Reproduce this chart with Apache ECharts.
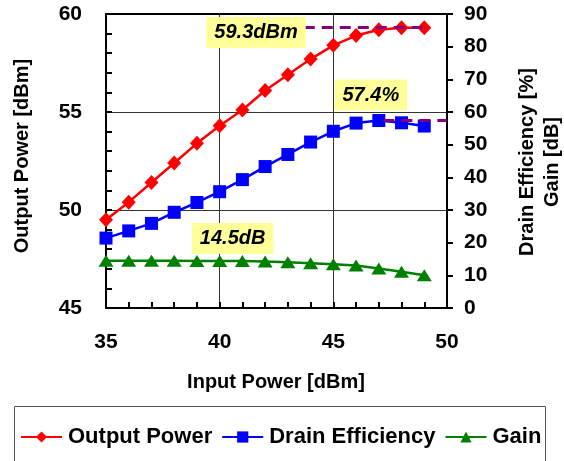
<!DOCTYPE html>
<html>
<head>
<meta charset="utf-8">
<script src="https://cdn.jsdelivr.net/npm/echarts@6/dist/echarts.min.js"></script>
<style>
  html, body { margin: 0; padding: 0; background: #fff; }
  #chart { width: 564px; height: 461px; }
</style>
</head>
<body>
<div id="chart"></div>
<script>
// Input power sweep [dBm]
const inputPower = [35, 36, 37, 38, 39, 40, 41, 42, 43, 44, 45, 46, 47, 48, 49];
// Output power [dBm] (left axis)
const outputPower = [49.5, 50.4, 51.4, 52.4, 53.4, 54.3, 55.1, 56.1, 56.9, 57.7, 58.4, 58.9, 59.2, 59.3, 59.3];
// Drain efficiency [%] (right axis)
const drainEfficiency = [21.4, 23.6, 25.9, 29.3, 32.3, 35.6, 39.3, 43.3, 47.0, 50.8, 54.1, 56.6, 57.4, 56.7, 55.7];
// Gain [dB] (right axis)
const gain = [14.5, 14.5, 14.5, 14.5, 14.4, 14.4, 14.4, 14.2, 14.0, 13.7, 13.4, 13.0, 12.1, 11.1, 10.0];

// Axis ranges: [min, max, labelled step, small tick step]
const xRange = [35, 50, 5, 1];
const leftRange = [45, 60, 5, 1];
const rightRange = [0, 90, 10];

// Highlighted values
const peakPout = 59.3;
const peakDE = 57.4;
const smallSignalGain = 14.5;

const FONT = "'Liberation Sans', Arial, sans-serif";
const pairs = (ys) => inputPower.map((x, i) => [x, ys[i]]);

const line2 = () => ({ color: '#000', width: 2 });
const tickLabel = () => ({ fontFamily: FONT, fontSize: 21, fontWeight: 'bold', color: '#000' });

const calloutLabel = {
  show: true,
  position: 'inside',
  fontFamily: FONT,
  fontSize: 20,
  fontWeight: 'bold',
  fontStyle: 'italic',
  color: '#000',
  backgroundColor: '#FFFF99',
  padding: [6, 8, 5, 8]
};

const chart = echarts.init(document.getElementById('chart'), null, { renderer: 'canvas' });

chart.setOption({
  animation: false,
  backgroundColor: '#fff',
  grid: { left: 106, right: 117, top: 14, bottom: 153 },
  legend: {
    left: 20, top: 424, padding: 0,
    itemWidth: 41, itemHeight: 14, itemGap: 9,
    textStyle: { fontFamily: FONT, fontSize: 22, fontWeight: 'bold', color: '#000', lineHeight: 26, padding: [0, 0, 0, 1] },
    data: ['Output Power', 'Drain Efficiency', 'Gain']
  },
  xAxis: [
    {
      type: 'value', min: xRange[0], max: xRange[1], interval: xRange[2], position: 'bottom',
      axisLine: { show: true, onZero: false, lineStyle: line2() },
      axisTick: { show: true, inside: true, length: 6, lineStyle: line2() },
      minorTick: { show: true, splitNumber: xRange[2] / xRange[3], length: 6, lineStyle: line2() },
      splitLine: { show: true, lineStyle: { color: '#333', width: 1 } },
      axisLabel: Object.assign({ margin: 24 }, tickLabel())
    },
    {
      // top frame edge
      type: 'value', min: xRange[0], max: xRange[1], interval: xRange[2], position: 'top',
      axisLine: { show: true, onZero: false, lineStyle: line2() },
      axisTick: { show: false }, axisLabel: { show: false }, splitLine: { show: false }
    }
  ],
  yAxis: [
    {
      type: 'value', min: leftRange[0], max: leftRange[1], interval: leftRange[2], position: 'left',
      axisLine: { show: true, onZero: false, lineStyle: line2() },
      axisTick: { show: true, inside: true, length: 6, lineStyle: line2() },
      minorTick: { show: true, splitNumber: leftRange[2] / leftRange[3], length: 6, lineStyle: line2() },
      splitLine: { show: true, lineStyle: { color: '#333', width: 1 } },
      axisLabel: Object.assign({ margin: 24 }, tickLabel())
    },
    {
      type: 'value', min: rightRange[0], max: rightRange[1], interval: rightRange[2], position: 'right',
      axisLine: { show: true, onZero: false, lineStyle: line2() },
      axisTick: { show: true, inside: false, length: 6, lineStyle: line2() },
      splitLine: { show: false },
      axisLabel: Object.assign({ margin: 17 }, tickLabel())
    }
  ],
  series: [
    {
      name: 'Output Power', type: 'line', yAxisIndex: 0,
      data: pairs(outputPower),
      symbol: 'diamond', symbolSize: [14, 15],
      lineStyle: { color: '#FF0000', width: 2.5 },
      itemStyle: { color: '#FF0000' },
      z: 3,
      markLine: {
        silent: true, symbol: 'none', label: { show: false },
        lineStyle: { color: '#800080', width: 3, type: [11, 7] },
        data: [[{ coord: [43.7, peakPout] }, { coord: [49, peakPout] }]]
      },
      markPoint: {
        symbol: 'rect', symbolSize: 1, itemStyle: { color: 'rgba(0,0,0,0)' },
        label: Object.assign({}, calloutLabel, { formatter: peakPout.toFixed(1) + 'dBm' }),
        data: [{ coord: [41.6, 59.05] }]
      }
    },
    {
      name: 'Drain Efficiency', type: 'line', yAxisIndex: 1,
      data: pairs(drainEfficiency),
      symbol: 'rect', symbolSize: 13,
      lineStyle: { color: '#0000FF', width: 2.5 },
      itemStyle: { color: '#0000FF' },
      z: 3,
      markLine: {
        silent: true, symbol: 'none', label: { show: false },
        lineStyle: { color: '#800080', width: 3, type: [11, 7] },
        data: [[{ coord: [47.2, peakDE] }, { coord: [50, peakDE] }]]
      },
      markPoint: {
        symbol: 'rect', symbolSize: 1, itemStyle: { color: 'rgba(0,0,0,0)' },
        label: Object.assign({}, calloutLabel, { formatter: peakDE.toFixed(1) + '%' }),
        data: [{ coord: [46.65, 65.2] }]
      }
    },
    {
      name: 'Gain', type: 'line', yAxisIndex: 1,
      data: pairs(gain),
      symbol: 'triangle', symbolSize: [15, 12],
      lineStyle: { color: '#008000', width: 2.5 },
      itemStyle: { color: '#008000' },
      z: 3,
      markPoint: {
        symbol: 'rect', symbolSize: 1, itemStyle: { color: 'rgba(0,0,0,0)' },
        label: Object.assign({}, calloutLabel, { formatter: smallSignalGain.toFixed(1) + 'dB' }),
        data: [{ coord: [40.57, 21.3] }]
      }
    }
  ],
  graphic: [
    {
      type: 'text', x: 22, y: 156, rotation: Math.PI / 2,
      style: { text: 'Output Power [dBm]', font: 'bold 20px ' + FONT, fill: '#000', align: 'center', verticalAlign: 'middle' }
    },
    {
      type: 'text', x: 540, y: 162, rotation: Math.PI / 2,
      style: { text: 'Drain Efficiency [%]\nGain [dB]', font: 'bold 20px ' + FONT, fill: '#000', align: 'center', verticalAlign: 'middle', lineHeight: 25 }
    },
    {
      type: 'text', x: 276, y: 382,
      style: { text: 'Input Power [dBm]', font: 'bold 20px ' + FONT, fill: '#000', align: 'center', verticalAlign: 'middle' }
    },
    {
      type: 'rect', z: -1, silent: true,
      shape: { x: 14.5, y: 406.5, width: 531, height: 80 },
      style: { fill: 'none', stroke: '#555', lineWidth: 1 }
    }
  ]
});
</script>
</body>
</html>
